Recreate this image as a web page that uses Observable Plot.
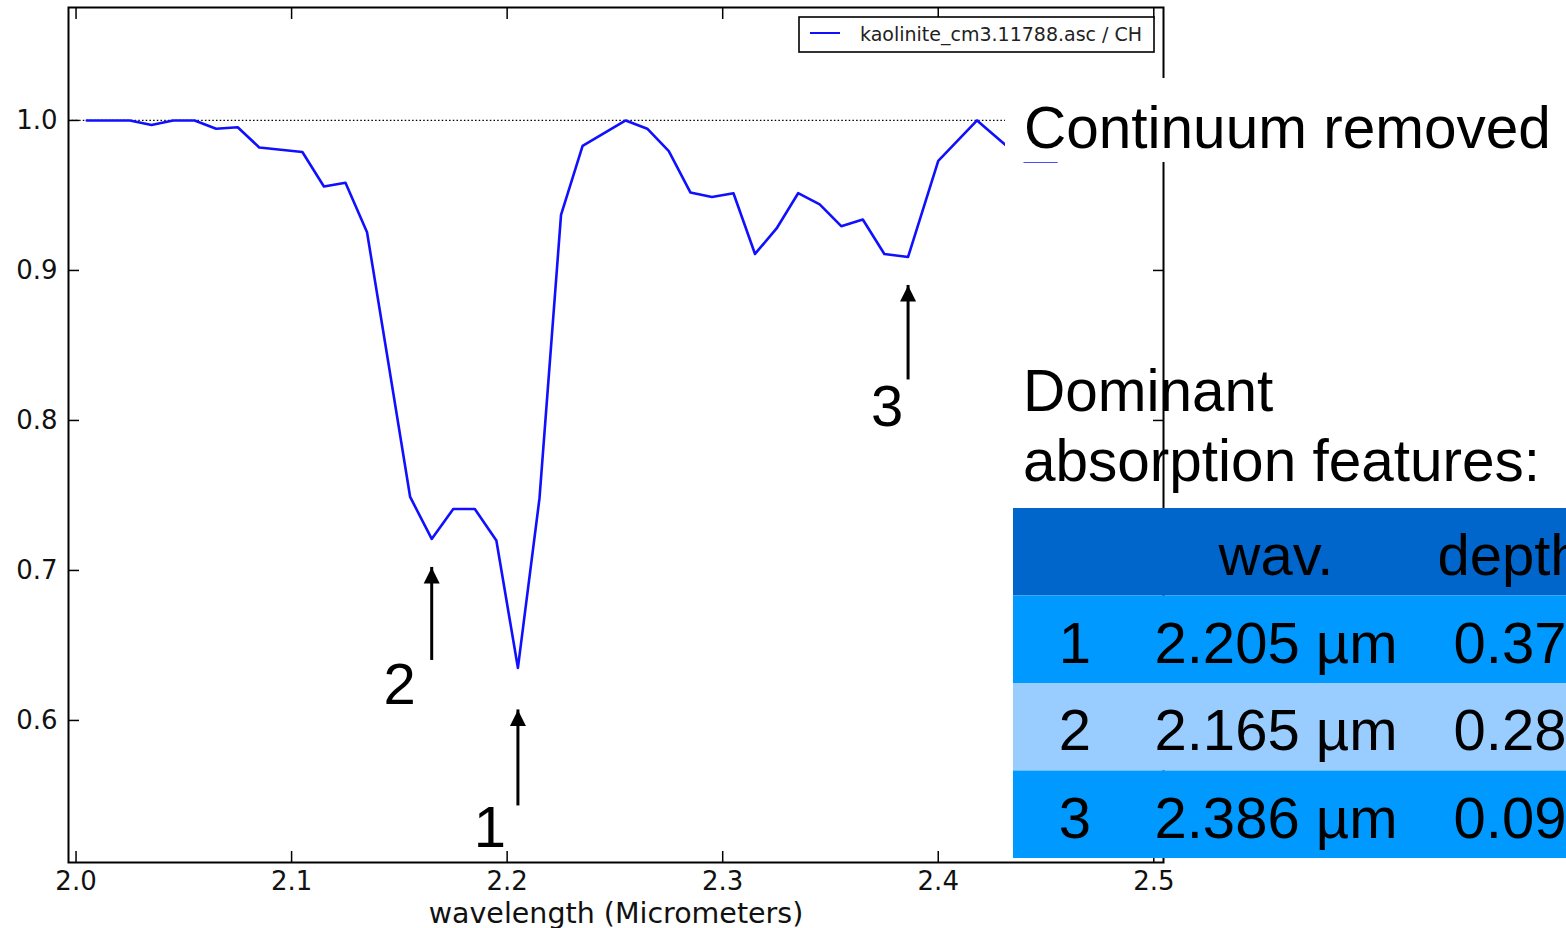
<!DOCTYPE html>
<html><head><meta charset="utf-8">
<script src="https://cdn.jsdelivr.net/npm/d3@7"></script>
<script src="https://cdn.jsdelivr.net/npm/@observablehq/plot@0.6"></script>
<style>
html,body{margin:0;padding:0;background:#fff;overflow:hidden;}
#wrap{position:relative;width:1566px;height:928px;overflow:hidden;background:#fff;}
#overlay{position:absolute;left:0;top:0;pointer-events:none;}
</style></head><body><div id="wrap"></div>
<script>
// ---- data ----
const wavelength = [2.005, 2.015, 2.025, 2.035, 2.045, 2.055, 2.065, 2.075, 2.085, 2.095,
  2.105, 2.115, 2.125, 2.135, 2.145, 2.155, 2.165, 2.175, 2.185, 2.195,
  2.205, 2.215, 2.225, 2.235, 2.245, 2.255, 2.265, 2.275, 2.285, 2.295,
  2.305, 2.315, 2.325, 2.335, 2.345, 2.355, 2.365, 2.375, 2.386, 2.400,
  2.418, 2.440, 2.455];
const reflectance = [1.0, 1.0, 1.0, 0.997, 1.0, 1.0, 0.9945, 0.9955, 0.982, 0.9805,
  0.979, 0.956, 0.9585, 0.9255, 0.8375, 0.749, 0.721, 0.741, 0.741, 0.72,
  0.635, 0.748, 0.937, 0.983, 0.9915, 1.0, 0.9945, 0.9795, 0.952, 0.949,
  0.9515, 0.911, 0.928, 0.9515, 0.944, 0.9295, 0.934, 0.911, 0.909, 0.973,
  1.0, 0.9727, 0.9727];
const featureId = [1, 2, 3];
const featureWav = [2.205, 2.165, 2.386];
const featureDepth = [0.37, 0.28, 0.09];
const arrowTip = [0.607, 0.702, 0.89];
const arrowTail = [0.543, 0.640, 0.827];
const xTicks = [2.0, 2.1, 2.2, 2.3, 2.4, 2.5];
const yTicks = [0.6, 0.7, 0.8, 0.9, 1.0];
const xLabel = "wavelength (Micrometers)";
const legendLabel = "kaolinite_cm3.11788.asc / CH";
const titleText = "Continuum removed";
const subtitleLines = ["Dominant", "absorption features:"];
const tableHeader = ["", "wav.", "depth"];

// ---- build ----
const W = 1566, H = 928;
const spectrum = wavelength.map((w, i) => ({w, r: reflectance[i]}));
const features = featureId.map((id, i) => ({id, wav: featureWav[i], depth: featureDepth[i], tip: arrowTip[i], tail: arrowTail[i]}));
const fmt = d3.format(".1f");
const arrowHead = {draw(ctx) { ctx.moveTo(0, 0); ctx.lineTo(8, 16); ctx.lineTo(-8, 16); ctx.closePath(); }};
const labelOffsets = [[-28, 22], [-32, 25], [-21, 27]];
const labelMarks = features.map((f, i) => Plot.text([f], {
  x: "wav", y: "tail", text: d => String(d.id), dx: labelOffsets[i][0], dy: labelOffsets[i][1],
  fontSize: 58, fontFamily: "'Liberation Sans', Arial, sans-serif", fill: "black", textAnchor: "middle", lineAnchor: "middle"
}));

const chart = Plot.plot({
  width: W, height: H,
  marginLeft: 68, marginRight: 403, marginTop: 7, marginBottom: 66,
  style: {fontFamily: "'DejaVu Sans', sans-serif", fontSize: "26px", color: "black", background: "white"},
  x: {domain: [1.9965, 2.5045]},
  y: {domain: [0.5053, 1.0753]},
  marks: [
    Plot.ruleY([1.0], {stroke: "black", strokeWidth: 1.3, strokeDasharray: "1.5,2.2"}),
    Plot.line(spectrum, {x: "w", y: "r", stroke: "#1010ff", strokeWidth: 2.6}),
    Plot.ruleX(features, {x: "wav", y1: "tail", y2: "tip", stroke: "black", strokeWidth: 3}),
    Plot.dot(features, {x: "wav", y: "tip", symbol: arrowHead, fill: "black", stroke: null, r: 5}),
    ...labelMarks,
    Plot.frame({stroke: "black", strokeWidth: 2}),
    Plot.axisX(xTicks, {anchor: "bottom", tickSize: -11, tickPadding: 20, tickFormat: fmt, label: null, strokeWidth: 1.5, fill: "#111"}),
    Plot.axisX(xTicks, {anchor: "top", tickSize: -11, tickFormat: () => "", label: null, strokeWidth: 1.5}),
    Plot.axisY(yTicks, {anchor: "left", tickSize: -11, tickPadding: 22, tickFormat: fmt, label: null, strokeWidth: 1.5, fill: "#111"}),
    Plot.axisY(yTicks, {anchor: "right", tickSize: -11, tickFormat: () => "", label: null, strokeWidth: 1.5}),
    Plot.text([xLabel], {text: d => d, frameAnchor: "bottom", dy: 60, lineAnchor: "bottom", fontSize: 28.5, fill: "#111"})
  ]
});
document.getElementById("wrap").appendChild(chart);

// ---- overlay annotations ----
const svg = d3.select("#wrap").append("svg").attr("id", "overlay")
  .attr("width", W).attr("height", H)
  .style("font-family", "'Liberation Sans', Arial, sans-serif");

// legend
const lg = svg.append("g");
lg.append("rect").attr("x", 799).attr("y", 17).attr("width", 355).attr("height", 35)
  .attr("fill", "white").attr("stroke", "black").attr("stroke-width", 1.6);
lg.append("line").attr("x1", 810).attr("x2", 840).attr("y1", 33).attr("y2", 33)
  .attr("stroke", "#1010ff").attr("stroke-width", 2);
lg.append("text").attr("x", 860).attr("y", 40.5)
  .style("font-family", "'DejaVu Sans', sans-serif").style("font-size", "19px")
  .attr("fill", "#222").text(legendLabel);

// "Continuum removed" box
svg.append("rect").attr("x", 1005).attr("y", 78).attr("width", W - 1005).attr("height", 84).attr("fill", "white");
svg.append("text").attr("x", 1024).attr("y", 148).style("font-size", "58.5px").attr("fill", "black").text(titleText);

// "Dominant absorption features:"
subtitleLines.forEach((t, i) => {
  svg.append("text").attr("x", 1023).attr("y", 411 + i * 70).style("font-size", "58.5px").attr("fill", "black").text(t);
});

// table
const tX = 1013, tY = 508, rowH = 87.5, tW = 700;
const colCenters = [1075, 1276, 1510];
const rowFill = ["#0099FF", "#99CCFF", "#0099FF"];
svg.append("rect").attr("x", tX).attr("y", tY).attr("width", tW).attr("height", rowH).attr("fill", "#0066CC");
tableHeader.forEach((h, j) => {
  svg.append("text").attr("x", colCenters[j]).attr("y", tY + 67).attr("text-anchor", "middle")
    .style("font-size", "58px").attr("fill", "black").text(h);
});
features.forEach((f, i) => {
  const y0 = tY + rowH * (i + 1);
  svg.append("rect").attr("x", tX).attr("y", y0).attr("width", tW).attr("height", rowH).attr("fill", rowFill[i]);
  const cells = [String(f.id), d3.format(".3f")(f.wav) + " µm", d3.format(".2f")(f.depth)];
  cells.forEach((c, j) => {
    svg.append("text").attr("x", colCenters[j]).attr("y", y0 + 67).attr("text-anchor", "middle")
      .style("font-size", "58px").attr("fill", "black").text(c);
  });
});
</script></body></html>
